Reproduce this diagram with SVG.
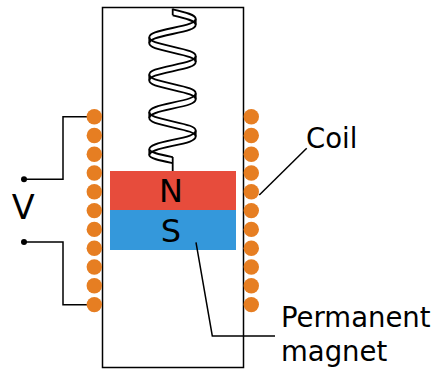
<svg xmlns="http://www.w3.org/2000/svg" width="433" height="371" viewBox="0 0 433 371">
<defs>
<path id="edge" d="M172.700 9.300C186 12.300 195.700 14.700 195.700 18.700C195.700 22.700 188 24.800 172.500 28S149.300 33.300 149.300 37.300C149.300 41.300 157 43.100 172.500 46.600S195.700 52 195.700 56C195.700 60 188 62.100 172.500 65.300S149.300 70.600 149.300 74.600C149.300 78.600 157 80.400 172.500 83.900S195.700 89.300 195.700 93.300C195.700 97.300 188 99.400 172.500 102.600S149.300 108 149.300 112C149.300 116 157 117.800 172.500 121.300S195.700 126.600 195.700 130.600C195.700 134.600 188 136.700 172.500 139.900S149.300 145.300 149.300 149.300C149.300 152.500 160 154.500 172.700 157"/>
</defs>
<style>
.w{fill:none;stroke:#000;stroke-width:1.5}
.r{fill:none;stroke:#000;stroke-width:1.800}
.c{fill:#e67e22}
.t{font-family:"DejaVu Sans",sans-serif;fill:#000}
</style>
<rect id="housing" x="102.500" y="7.500" width="141" height="360" fill="#fff" stroke="#000" stroke-width="1.500"/>
<g id="spring">
<use href="#edge" class="r"/>
<use href="#edge" class="r" y="6"/>
<path class="r" d="M172.700 8.500V15.300M172.700 157V171M195.700 18.700v6M149.300 37.300v6M195.700 56v6M149.300 74.600v6M195.700 93.300v6M149.300 112v6M195.700 130.600v6M149.300 149.300v6"/>
</g>
<g id="magnet">
<rect x="110" y="171" width="126" height="39" fill="#e74c3c"/>
<rect x="110" y="210" width="126" height="40" fill="#3498db"/>
<text class="t" x="171" y="202" font-size="32" text-anchor="middle">N</text>
<text class="t" x="171" y="242" font-size="32" text-anchor="middle">S</text>
</g>
<g id="connectors">
<path class="w" d="M94 116.700H63V179.300H24"/>
<path class="w" d="M24 242H63V304.700H94"/>
<path class="w" d="M259.300 195L306.700 148.300"/>
<path class="w" d="M196 242.300L212.300 336H275"/>
</g>
<g id="terminals">
<circle cx="24" cy="179.300" r="3"/>
<circle cx="24" cy="242" r="3"/>
</g>
<g id="coil-left">
<circle class="c" cx="94.300" cy="116.700" r="7.700"/><circle class="c" cx="94.300" cy="135.500" r="7.700"/><circle class="c" cx="94.300" cy="154.300" r="7.700"/><circle class="c" cx="94.300" cy="173" r="7.700"/><circle class="c" cx="94.300" cy="191.800" r="7.700"/><circle class="c" cx="94.300" cy="210.600" r="7.700"/><circle class="c" cx="94.300" cy="229.400" r="7.700"/><circle class="c" cx="94.300" cy="248.200" r="7.700"/><circle class="c" cx="94.300" cy="267" r="7.700"/><circle class="c" cx="94.300" cy="285.800" r="7.700"/><circle class="c" cx="94.300" cy="304.600" r="7.700"/>
</g>
<g id="coil-right">
<circle class="c" cx="251.300" cy="116.700" r="7.700"/><circle class="c" cx="251.300" cy="135.500" r="7.700"/><circle class="c" cx="251.300" cy="154.300" r="7.700"/><circle class="c" cx="251.300" cy="173" r="7.700"/><circle class="c" cx="251.300" cy="191.800" r="7.700"/><circle class="c" cx="251.300" cy="210.600" r="7.700"/><circle class="c" cx="251.300" cy="229.400" r="7.700"/><circle class="c" cx="251.300" cy="248.200" r="7.700"/><circle class="c" cx="251.300" cy="267" r="7.700"/><circle class="c" cx="251.300" cy="285.800" r="7.700"/><circle class="c" cx="251.300" cy="304.600" r="7.700"/>
</g>
<g id="labels">
<text class="t" x="23.300" y="218.500" font-size="33.500" text-anchor="middle">V</text>
<text class="t" x="306" y="147.500" font-size="27.500">Coil</text>
<text class="t" x="281" y="326.700" font-size="27.500">Permanent</text>
<text class="t" x="281" y="360.500" font-size="27.500">magnet</text>
</g>
</svg>
